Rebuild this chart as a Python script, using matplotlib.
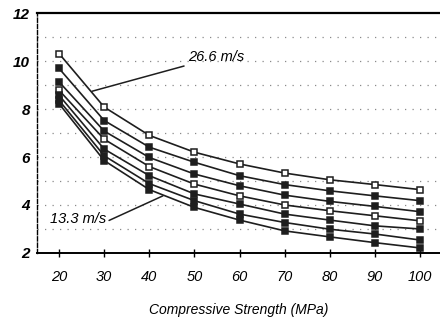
import matplotlib
matplotlib.use('Agg')
import matplotlib.pyplot as plt

# compressive strength (MPa)
strength = [20, 30, 40, 50, 60, 70, 80, 90, 100]

# one curve per speed, top (26.6 m/s) to bottom (13.3 m/s)
curves = [
    [10.31, 8.08, 6.90, 6.20, 5.71, 5.33, 5.05, 4.85, 4.64],
    [9.69, 7.52, 6.41, 5.78, 5.22, 4.85, 4.59, 4.38, 4.18],
    [9.13, 7.08, 5.98, 5.29, 4.80, 4.41, 4.15, 3.94, 3.72],
    [8.78, 6.74, 5.60, 4.87, 4.38, 4.00, 3.76, 3.55, 3.34],
    [8.57, 6.33, 5.22, 4.46, 4.04, 3.62, 3.37, 3.13, 3.00],
    [8.36, 6.05, 4.89, 4.18, 3.62, 3.27, 2.99, 2.79, 2.54],
    [8.22, 5.85, 4.64, 3.90, 3.37, 2.92, 2.67, 2.43, 2.21],
]
open_marker = [True, False, False, True, False, False, False]

y_ticks = [2, 4, 6, 8, 10, 12]
grid_levels = [3, 4, 5, 6, 7, 8, 9, 10, 11]

plt.rcParams['font.family'] = ['Liberation Sans', 'DejaVu Sans']

fig = plt.figure(figsize=(4.4, 3.26), dpi=100)
ax = fig.add_axes([0.084, 0.224, 0.916, 0.736])

for lvl in grid_levels:
    ax.axhline(lvl, color='#8a8a8a', lw=0.9, ls=(0, (1, 5)), zorder=0)

for vals, is_open in zip(curves, open_marker):
    ax.plot(strength, vals, color='#1e1e1e', lw=1.2, zorder=2)
    ax.plot(strength, vals, ls='none', marker='s', ms=4.4,
            mec='#1e1e1e', mew=1.1,
            mfc='white' if is_open else '#1e1e1e', zorder=3)

ax.set_xlim(15.1, 104.4)
ax.set_ylim(2, 12)
ax.set_xticks(strength)
ax.set_yticks(y_ticks)
ax.set_xticklabels([str(s) for s in strength], fontsize=10.5, style='italic')
ax.set_yticklabels([str(t) for t in y_ticks], fontsize=11, style='italic',
                   weight='bold')
ax.tick_params(axis='x', direction='inout', length=6, width=1, pad=9)
ax.tick_params(axis='y', length=0, pad=5)

ax.spines['right'].set_visible(False)
ax.spines['top'].set_linewidth(1.6)
ax.spines['bottom'].set_linewidth(1.4)
ax.spines['left'].set_linewidth(1.0)
ax.spines['left'].set_linestyle((0, (3, 1.5)))

ax.set_xlabel('Compressive Strength (MPa)', fontsize=10, style='italic', labelpad=14)

ax.annotate('26.6 m/s', xy=(27.3, 8.74), xytext=(48.6, 10.16),
            fontsize=10.5, style='italic', va='center', ha='left',
            arrowprops=dict(arrowstyle='-', color='#1e1e1e', lw=1.1,
                            shrinkA=1, shrinkB=0))
ax.annotate('13.3 m/s', xy=(43.0, 4.38), xytext=(18.0, 3.42),
            fontsize=10.5, style='italic', va='center', ha='left',
            arrowprops=dict(arrowstyle='-', color='#1e1e1e', lw=1.1,
                            shrinkA=0, shrinkB=0, relpos=(1, 0.3)))

fig.savefig('out.png', dpi=100)
